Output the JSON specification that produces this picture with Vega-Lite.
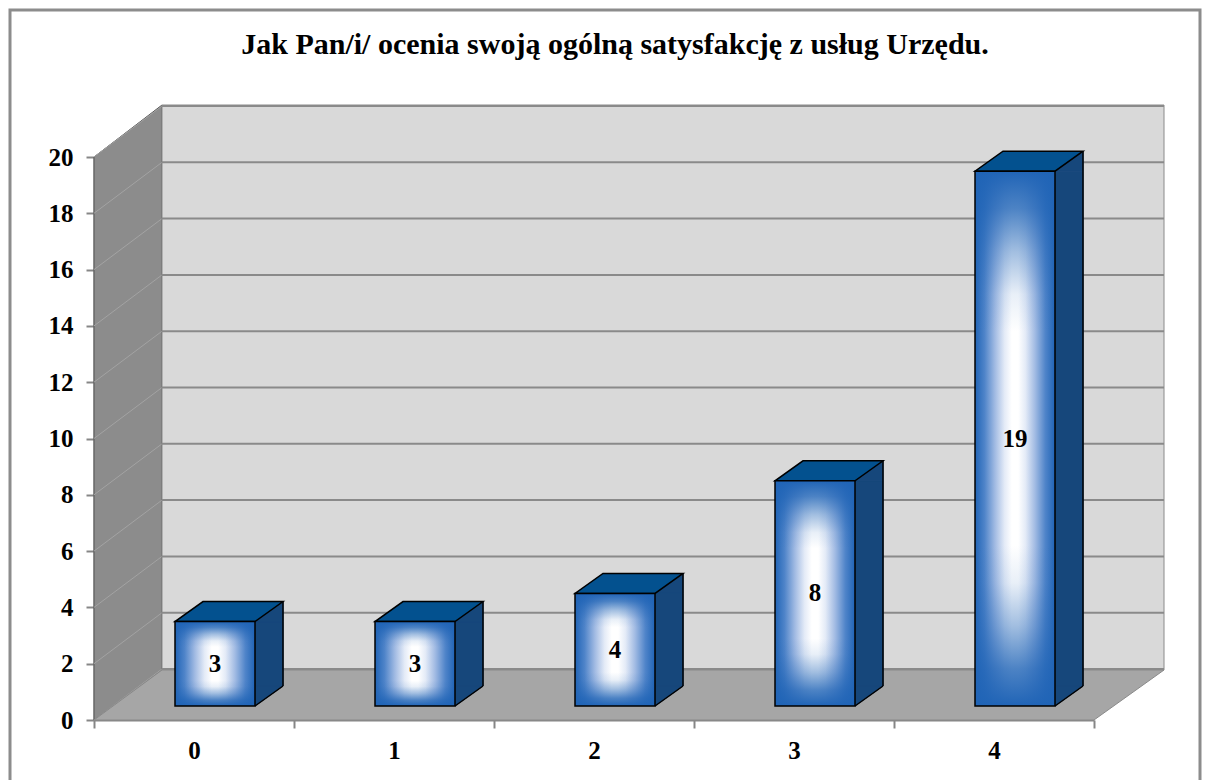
{
  "$schema": "https://vega.github.io/schema/vega-lite/v6.json",
  "width": 1000,
  "height": 563,
  "autosize": {"type": "none"},
  "padding": {"left": 94, "top": 157, "right": 112, "bottom": 60},
  "background": "white",
  "title": {
    "text": "Jak Pan/i/ ocenia swoją ogólną satysfakcję z usług Urzędu.",
    "font": "Liberation Serif",
    "fontSize": 30,
    "fontWeight": "bold",
    "color": "black",
    "anchor": "middle",
    "frame": "group",
    "baseline": "alphabetic",
    "dx": 21,
    "offset": -80
  },
  "config": {"view": {"stroke": null}},
  "datasets": {
    "bars": [
      {"cat": 0, "n": 3},
      {"cat": 1, "n": 3},
      {"cat": 2, "n": 4},
      {"cat": 3, "n": 8},
      {"cat": 4, "n": 19}
    ],
    "ticks": [
      {"v": 0}, {"v": 2}, {"v": 4}, {"v": 6}, {"v": 8}, {"v": 10},
      {"v": 12}, {"v": 14}, {"v": 16}, {"v": 18}, {"v": 20}
    ]
  },
  "data": {"name": "bars"},
  "resolve": {"scale": {"y": "independent"}},
  "layer": [
    {
      "layer": [
        {
          "transform": [{"filter": "datum.cat === 0"}],
          "mark": {"type": "point", "shape": "M-184,80L-184,-710L1006,-710L1006,80", "size": 4, "filled": false, "color": "#8c8c8c", "strokeWidth": 3, "opacity": 1},
          "encoding": {
            "x": {"field": "cat", "type": "ordinal", "scale": {"paddingInner": 0, "paddingOuter": 0},
              "axis": {"title": null, "labelAngle": 0, "tickBand": "extent", "domainColor": "#868686", "domainWidth": 2, "tickColor": "#868686", "tickWidth": 2, "tickSize": 8, "labelFont": "Liberation Serif", "labelFontSize": 25, "labelFontWeight": "bold", "labelColor": "black", "labelPadding": 10}},
            "y": {"datum": 0, "type": "quantitative", "scale": {"domain": [0, 20], "nice": false},
              "axis": {"title": null, "values": [0, 2, 4, 6, 8, 10, 12, 14, 16, 18, 20], "grid": false, "domainColor": "#868686", "domainWidth": 2, "tickColor": "#868686", "tickWidth": 2, "tickSize": 8, "labelFont": "Liberation Serif", "labelFontSize": 25, "labelFontWeight": "bold", "labelColor": "black", "labelPadding": 13}}
          }
        },
        {
          "transform": [{"filter": "datum.cat === 0"}],
          "mark": {"type": "point", "shape": "M-100,-563L-32,-615L-32,-50L-100,0Z", "size": 4, "filled": true, "fill": "#8c8c8c", "stroke": "#555555", "strokeWidth": 1, "opacity": 1},
          "encoding": {"x": {"datum": 0, "type": "ordinal"}, "y": {"datum": 0, "type": "quantitative"}}
        },
        {
          "data": {"name": "ticks"},
          "mark": {"type": "rule", "color": "#a3a3a3", "strokeWidth": 1, "xOffset": -100, "x2Offset": -32, "y2Offset": -51},
          "encoding": {
            "x": {"datum": 0, "type": "ordinal"},
            "x2": {"datum": 0},
            "y": {"field": "v", "type": "quantitative"},
            "y2": {"field": "v"}
          }
        },
        {
          "transform": [{"filter": "datum.cat === 0"}],
          "mark": {"type": "point", "shape": "M-32,-615L970,-615L970,-50L-32,-50Z", "size": 4, "filled": true, "fill": "#d9d9d9", "stroke": "#8a8a8a", "strokeWidth": 1, "opacity": 1},
          "encoding": {"x": {"datum": 0, "type": "ordinal"}, "y": {"datum": 0, "type": "quantitative"}}
        },
        {
          "transform": [{"filter": "datum.cat === 0"}],
          "mark": {"type": "point", "shape": "M-100,0L900,0L970,-50L-32,-50Z", "size": 4, "filled": true, "fill": "#a6a6a6", "stroke": "#8a8a8a", "strokeWidth": 1, "opacity": 1},
          "encoding": {"x": {"datum": 0, "type": "ordinal"}, "y": {"datum": 0, "type": "quantitative"}}
        },
        {
          "data": {"name": "ticks"},
          "mark": {"type": "rule", "color": "#8a8a8a", "strokeWidth": 2, "xOffset": -32, "x2Offset": 170, "yOffset": -51},
          "encoding": {
            "x": {"datum": 0, "type": "ordinal"},
            "x2": {"datum": 4},
            "y": {"field": "v", "type": "quantitative"}
          }
        },
        {
          "mark": {"type": "bar", "width": 28, "xOffset": 75, "yOffset": -14, "y2Offset": -34, "fill": "#16477b", "stroke": "#16477b", "strokeWidth": 1},
          "encoding": {
            "x": {"field": "cat", "type": "ordinal"},
            "y": {"field": "n", "type": "quantitative"},
            "y2": {"datum": 0}
          }
        },
        {
          "mark": {"type": "point", "shape": "M61,-14L89,-34L89,-14Z", "size": 4, "filled": true, "fill": "#16477b", "stroke": "#16477b", "strokeWidth": 1, "opacity": 1},
          "encoding": {
            "x": {"field": "cat", "type": "ordinal"},
            "y": {"field": "n", "type": "quantitative"}
          }
        },
        {
          "mark": {"type": "point", "shape": "M61,-14L61,-34L89,-34Z", "size": 4, "filled": true, "fill": "#16477b", "stroke": "#16477b", "strokeWidth": 1, "opacity": 1},
          "encoding": {
            "x": {"field": "cat", "type": "ordinal"},
            "y": {"datum": 0, "type": "quantitative"}
          }
        },
        {
          "mark": {"type": "rule", "color": "black", "strokeWidth": 1.5, "xOffset": 89, "yOffset": -34, "y2Offset": -34},
          "encoding": {
            "x": {"field": "cat", "type": "ordinal"},
            "y": {"field": "n", "type": "quantitative"},
            "y2": {"datum": 0}
          }
        },
        {
          "mark": {"type": "point", "shape": "M61,-14L89,-34", "size": 4, "filled": false, "color": "black", "strokeWidth": 1.5, "opacity": 1},
          "encoding": {
            "x": {"field": "cat", "type": "ordinal"},
            "y": {"datum": 0, "type": "quantitative"}
          }
        },
        {
          "mark": {"type": "point", "shape": "M-19,-14L61,-14L89,-34L9,-34Z", "size": 4, "filled": true, "fill": "#03518f", "stroke": "black", "strokeWidth": 1.5, "opacity": 1},
          "encoding": {
            "x": {"field": "cat", "type": "ordinal"},
            "y": {"field": "n", "type": "quantitative"}
          }
        },
        {
          "mark": {
            "type": "bar", "width": 80, "xOffset": 21, "yOffset": -14, "y2Offset": -14,
            "fill": {"gradient": "linear", "x1": 0, "y1": 0, "x2": 1, "y2": 0,
              "stops": [
                {"offset": 0, "color": "#2064b6"},
                {"offset": 0.12, "color": "#4f84c9"},
                {"offset": 0.25, "color": "#a2bbe3"},
                {"offset": 0.37, "color": "#e4ebf7"},
                {"offset": 0.46, "color": "#ffffff"},
                {"offset": 0.54, "color": "#ffffff"},
                {"offset": 0.63, "color": "#e4ebf7"},
                {"offset": 0.75, "color": "#a2bbe3"},
                {"offset": 0.88, "color": "#4f84c9"},
                {"offset": 1, "color": "#2064b6"}
              ]},
            "strokeWidth": 0
          },
          "encoding": {
            "x": {"field": "cat", "type": "ordinal"},
            "y": {"field": "n", "type": "quantitative"},
            "y2": {"datum": 0}
          }
        },
        {
          "mark": {
            "type": "bar", "width": 80, "xOffset": 21, "yOffset": -14, "y2Offset": -14,
            "fill": {"gradient": "linear", "x1": 0, "y1": 0, "x2": 0, "y2": 1,
              "stops": [
                {"offset": 0, "color": "rgba(32,100,182,1)"},
                {"offset": 0.07, "color": "rgba(32,100,182,0.8)"},
                {"offset": 0.15, "color": "rgba(32,100,182,0.42)"},
                {"offset": 0.23, "color": "rgba(32,100,182,0.1)"},
                {"offset": 0.3, "color": "rgba(32,100,182,0)"},
                {"offset": 0.7, "color": "rgba(32,100,182,0)"},
                {"offset": 0.77, "color": "rgba(32,100,182,0.1)"},
                {"offset": 0.85, "color": "rgba(32,100,182,0.42)"},
                {"offset": 0.93, "color": "rgba(32,100,182,0.8)"},
                {"offset": 1, "color": "rgba(32,100,182,1)"}
              ]},
            "strokeWidth": 0
          },
          "encoding": {
            "x": {"field": "cat", "type": "ordinal"},
            "y": {"field": "n", "type": "quantitative"},
            "y2": {"datum": 0}
          }
        },
        {
          "mark": {"type": "bar", "width": 80, "xOffset": 21, "yOffset": -14, "y2Offset": -14, "fill": null, "fillOpacity": 0, "stroke": "black", "strokeWidth": 1.5},
          "encoding": {
            "x": {"field": "cat", "type": "ordinal"},
            "y": {"field": "n", "type": "quantitative"},
            "y2": {"datum": 0}
          }
        }
      ]
    },
    {
      "mark": {"type": "text", "font": "Liberation Serif", "fontSize": 25, "fontWeight": "bold", "color": "black", "baseline": "middle", "align": "center", "xOffset": 21, "yOffset": -14},
      "encoding": {
        "x": {"field": "cat", "type": "ordinal"},
        "y": {"field": "n", "type": "quantitative", "scale": {"domain": [0, 40], "nice": false}, "axis": null},
        "text": {"field": "n", "type": "quantitative"}
      }
    }
  ]
}
